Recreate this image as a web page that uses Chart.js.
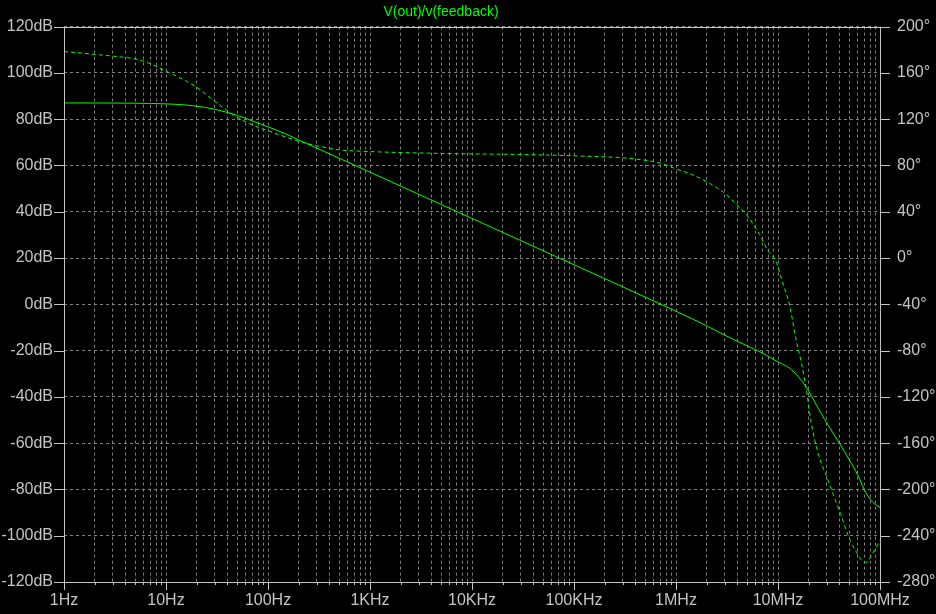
<!DOCTYPE html>
<html>
<head>
<meta charset="utf-8">
<script src="https://cdn.jsdelivr.net/npm/chart.js@4.4.0/dist/chart.umd.min.js"></script>
<style>
  html, body { margin: 0; padding: 0; background: #000; }
  canvas { display: block; }
</style>
</head>
<body>
<canvas id="bode" width="936" height="614"></canvas>
<script>
// gain trace (Hz / dB)
const gainFreq = [1, 2, 5, 10, 15, 20, 30, 50, 70, 100, 150, 200, 300, 500, 1e3, 1e4, 1e5, 1e6, 2e6, 3e6, 5e6, 7e6,
                  1e7, 1.3e7, 1.6e7, 2e7, 2.5e7, 3e7, 4e7, 5e7, 6e7, 7e7, 8e7, 9e7, 1e8];
const gainDb = [87, 87, 86.9, 86.6, 86.2, 85.6, 84.3, 81.6, 79.3, 76.7, 73.6, 71, 67.5, 63.1, 57.1, 37.1, 17.1, -3, -9.3, -13.3, -18, -21,
                -24.9, -27.6, -31.5, -37.5, -45.2, -51.2, -60, -67.2, -73.4, -80, -84.2, -86.5, -87.8];

// phase trace (Hz / degrees)
const phaseFreq = [1, 2, 3, 5, 7, 10, 15, 20, 30, 50, 80, 100, 150, 200, 300, 500, 1e3, 3e3, 1e4, 3e4, 1e5, 3e5, 5e5, 7e5,
                   1e6, 1.4e6, 2e6, 3e6, 4e6, 5e6, 6.6e6, 8e6, 9.5e6, 1.1e7, 1.3e7, 1.5e7, 1.7e7, 1.93e7, 2.1e7, 2.5e7,
                   3e7, 3.5e7, 4.1e7, 5.1e7, 6e7, 6.7e7, 7.2e7, 7.6e7, 8.5e7, 9.6e7, 1e8];
const phaseDeg = [178.5, 176, 174.5, 172, 168, 161.5, 154, 147.5, 135.5, 121.5, 113, 110, 104.5, 101, 97, 93.5, 92, 90.8, 90, 89.5, 88.3, 86.6, 84.5, 82,
                  77, 72.5, 66, 56, 45.5, 36.5, 20.3, 6, -2.5, -20, -41, -70, -91, -118, -141, -170,
                  -189, -205, -221, -244, -255.5, -262, -263, -262, -255, -247, -244];

// axis ticks
const xDecades = [1, 10, 100, 1e3, 1e4, 1e5, 1e6, 1e7, 1e8];
const xTickLabels = ['1Hz', '10Hz', '100Hz', '1KHz', '10KHz', '100KHz', '1MHz', '10MHz', '100MHz'];
const dbTicks = [-120, -100, -80, -60, -40, -20, 0, 20, 40, 60, 80, 100, 120];
const degTicks = [-280, -240, -200, -160, -120, -80, -40, 0, 40, 80, 120, 160, 200];

const TRACE = '#00ff00';
const LABEL = '#c4c4c4';
const GRID = '#808080';
const FONT = { family: '"Liberation Sans", Arial, sans-serif', size: 16 };

// every decade plus 2..9 in between
const xTickValues = [];
xDecades.forEach(function(d, i) {
    xTickValues.push(d);
    if (i < xDecades.length - 1) {
        for (let m = 2; m <= 9; m++) xTickValues.push(m * d);
    }
});

const ltspiceLook = {
    id: 'ltspiceLook',
    afterDraw(chart) {
        const ctx = chart.ctx;
        const a = chart.chartArea;
        const xs = chart.scales.x, yl = chart.scales.y, yr = chart.scales.y2;
        ctx.save();
        ctx.strokeStyle = LABEL;
        ctx.lineWidth = 1;
        ctx.beginPath();
        // tick marks
        xs.ticks.forEach(function(t) {
            const px = Math.round(xs.getPixelForValue(t.value)) + 0.5;
            const len = xDecades.indexOf(t.value) >= 0 ? 8 : 3;
            ctx.moveTo(px, a.bottom);
            ctx.lineTo(px, a.bottom + len);
        });
        yl.ticks.forEach(function(t) {
            const py = Math.round(yl.getPixelForValue(t.value)) + 0.5;
            ctx.moveTo(a.left - 10, py);
            ctx.lineTo(a.left, py);
        });
        yr.ticks.forEach(function(t) {
            const py = Math.round(yr.getPixelForValue(t.value)) + 0.5;
            ctx.moveTo(a.right, py);
            ctx.lineTo(a.right + 10, py);
        });
        ctx.stroke();
        // frame
        ctx.strokeRect(Math.round(a.left) + 0.5, Math.round(a.top) + 0.5,
                       Math.round(a.right - a.left), Math.round(a.bottom - a.top));
        // trace title
        ctx.fillStyle = TRACE;
        ctx.font = '14px "Liberation Sans", Arial, sans-serif';
        ctx.textAlign = 'center';
        ctx.textBaseline = 'middle';
        ctx.fillText('V(out)/v(feedback)', 441, 12);
        ctx.restore();
    }
};

new Chart(document.getElementById('bode'), {
    type: 'line',
    data: {
        datasets: [{
            label: 'gain',
            data: gainFreq.map((f, i) => ({ x: f, y: gainDb[i] })),
            yAxisID: 'y',
            borderColor: TRACE,
            borderWidth: 1,
            pointRadius: 0,
            cubicInterpolationMode: 'monotone'
        }, {
            label: 'phase',
            data: phaseFreq.map((f, i) => ({ x: f, y: phaseDeg[i] })),
            yAxisID: 'y2',
            borderColor: TRACE,
            borderWidth: 1,
            borderDash: [4, 3],
            pointRadius: 0,
            cubicInterpolationMode: 'monotone'
        }]
    },
    options: {
        responsive: false,
        animation: false,
        events: [],
        layout: { padding: { top: 22, left: 0, right: 0, bottom: 0 } },
        plugins: { legend: { display: false }, tooltip: { enabled: false } },
        scales: {
            x: {
                type: 'logarithmic',
                min: 1,
                max: 1e8,
                afterBuildTicks: function(s) { s.ticks = xTickValues.map(v => ({ value: v })); },
                afterFit: function(s) { s.height = 32; },
                ticks: {
                    autoSkip: false,
                    maxRotation: 0,
                    padding: 9,
                    color: LABEL,
                    font: FONT,
                    callback: function(value) {
                        const i = xDecades.indexOf(value);
                        return i >= 0 ? xTickLabels[i] : '';
                    }
                },
                grid: { color: GRID, lineWidth: 1, drawTicks: false },
                border: { display: false, dash: [3, 3] }
            },
            y: {
                position: 'left',
                min: dbTicks[0],
                max: dbTicks[dbTicks.length - 1],
                afterBuildTicks: function(s) { s.ticks = dbTicks.map(v => ({ value: v })); },
                afterFit: function(s) { s.width = 64; },
                ticks: { padding: 11, color: LABEL, font: FONT, callback: v => v + 'dB' },
                grid: { color: GRID, lineWidth: 1, drawTicks: false },
                border: { display: false, dash: [3, 3] }
            },
            y2: {
                position: 'right',
                min: degTicks[0],
                max: degTicks[degTicks.length - 1],
                afterBuildTicks: function(s) { s.ticks = degTicks.map(v => ({ value: v })); },
                afterFit: function(s) { s.width = 56; },
                ticks: { padding: 17, color: LABEL, font: FONT, callback: v => v + '°' },
                grid: { display: false, drawTicks: false },
                border: { display: false }
            }
        }
    },
    plugins: [ltspiceLook]
});
</script>
</body>
</html>
